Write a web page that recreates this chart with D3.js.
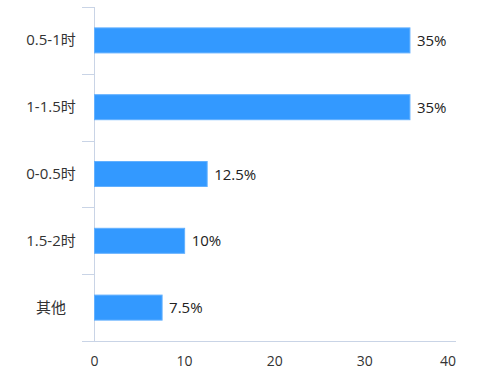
<!DOCTYPE html>
<html><head><meta charset="utf-8">
<script src="https://cdn.jsdelivr.net/npm/d3@7"></script>
<style>body{margin:0;background:#fff}svg{display:block}text{font-family:"Open Sans","Noto Sans CJK SC",sans-serif}</style>
</head><body><svg id="c" width="481" height="382"></svg>
<script>
const categories = ["0.5-1时","1-1.5时","0-0.5时","1.5-2时","其他"];
const values = [35, 35, 12.5, 10, 7.5];
const xTicks = [0, 10, 20, 30, 40];

const svg = d3.select("#c");
const x = d3.scaleLinear().domain([0, 40]).range([94.5, 455]);
const y = d3.scaleBand().domain(categories).range([7, 341]);
const axisColor = "#c9d4e6";

svg.append("line").attr("x1", 94.5).attr("x2", 94.5).attr("y1", 7).attr("y2", 341)
  .attr("stroke", axisColor).attr("stroke-width", 1);
const bounds = categories.map(c => y(c)).concat([341]);
svg.selectAll(".yt").data(bounds).join("line")
  .attr("x1", 82).attr("x2", 94.5).attr("y1", d => Math.round(d) + 0.5).attr("y2", d => Math.round(d) + 0.5)
  .attr("stroke", axisColor);
svg.append("line").attr("x1", 82).attr("x2", 456).attr("y1", 341.5).attr("y2", 341.5)
  .attr("stroke", axisColor);

svg.selectAll(".xl").data(xTicks).join("text")
  .attr("x", (d, i) => i === xTicks.length - 1 ? 456 : x(d))
  .attr("text-anchor", (d, i) => i === xTicks.length - 1 ? "end" : "middle")
  .attr("y", 366).attr("font-size", 14).attr("fill", "#333")
  .text(d => d);

svg.selectAll(".cl").data(categories).join("text")
  .attr("x", 51).attr("y", d => y(d) + y.bandwidth() / 2 + 5)
  .attr("text-anchor", "middle").attr("font-size", 15).attr("fill", "#333")
  .text(d => d);

const bh = 25;
svg.selectAll(".bar").data(values).join("rect")
  .attr("x", x(0)).attr("y", (d, i) => y(categories[i]) + y.bandwidth() / 2 - bh / 2)
  .attr("width", d => x(d) - x(0)).attr("height", bh)
  .attr("fill", "#3399ff").attr("stroke", "#62b0ff").attr("stroke-width", 1);

svg.selectAll(".vl").data(values).join("text")
  .attr("x", d => x(d) + 7).attr("y", (d, i) => y(categories[i]) + y.bandwidth() / 2 + 5.5)
  .attr("font-size", 15).attr("fill", "#222")
  .text(d => d + "%");
</script></body></html>
